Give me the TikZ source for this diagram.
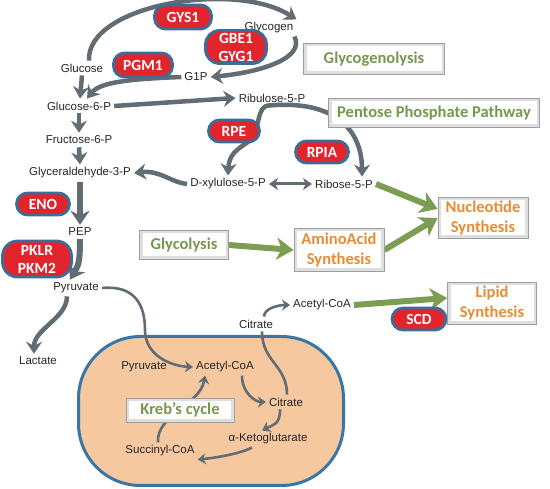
\documentclass[tikz,border=0pt]{standalone}
\usepackage{fontspec}
\setmainfont{Liberation Sans}
\newfontfamily\calib{Carlito}
\usetikzlibrary{arrows.meta,calc}
\definecolor{arrgray}{RGB}{98,108,115}
\definecolor{arrgreen}{RGB}{125,158,82}
\definecolor{txtgreen}{RGB}{118,152,78}
\definecolor{txtorange}{RGB}{232,140,52}
\definecolor{pillred}{RGB}{226,36,44}
\definecolor{pillblue}{RGB}{58,110,152}
\definecolor{cellfill}{RGB}{245,200,160}
\definecolor{cellblue}{RGB}{58,118,165}
\pgfdeclarelayer{cellL}
\pgfdeclarelayer{arrL}
\pgfsetlayers{cellL,arrL,main}
\begin{document}
\begin{tikzpicture}[x=1pt,y=-1pt,
 met/.style={font=\fontsize{11.5}{13}\selectfont, inner sep=3pt, text=black!85},
 pill/.style={draw=pillblue, line width=2.8pt, fill=pillred, text=white,
   font=\calib\bfseries\fontsize{15.5}{18}\selectfont, rounded corners=11pt,
   inner sep=0pt, align=center},
 tbox/.style={draw=black!38, line width=0.8pt, fill=black!13,
   path picture={\fill[white] ([shift={(3pt,-3pt)}]path picture bounding box.north west)
     rectangle ([shift={(-3pt,3pt)}]path picture bounding box.south east);},
   font=\calib\bfseries\fontsize{16.5}{20}\selectfont, inner sep=0pt, align=center},
 big/.style={draw=arrgray, line width=4.5pt, -{Stealth[length=12pt,width=16pt,inset=4pt]}},
 bigger/.style={draw=arrgray, line width=6pt, -{Stealth[length=14pt,width=19pt,inset=4.5pt]}},
 thin/.style={draw=arrgray, line width=2.6pt, -{Stealth[length=8pt,width=11pt,inset=2.5pt]}},
 grn/.style={draw=arrgreen, line width=6pt, -{Stealth[length=17pt,width=22pt,inset=5pt]}}
]
\useasboundingbox (0,0) rectangle (550,489);

% metabolite labels
\node[met] (glc) at (82,68) {Glucose};
\node[met] (glycogen) at (269,28) {Glycogen};
\node[met] (g1p) at (196,77) {G1P};
\node[met] (g6p) at (79,106) {Glucose-6-P};
\node[met] (ru5p) at (272,98) {Ribulose-5-P};
\node[met] (f6p) at (79,140) {Fructose-6-P};
\node[met] (gap) at (80,173) {Glyceraldehyde-3-P};
\node[met] (xu5p) at (228,184) {D-xylulose-5-P};
\node[met] (r5p) at (344,184) {Ribose-5-P};
\node[met] (pep) at (80,232) {PEP};
\node[met] (pyr) at (76,288) {Pyruvate};
\node[met] (lac) at (38,361) {Lactate};
\node[met] (acoa) at (322,305) {Acetyl-CoA};
\node[met] (cit) at (256,324) {Citrate};

% cell compartment
\begin{pgfonlayer}{cellL}
\node[draw=cellblue, line width=3pt, fill=cellfill, rounded corners=62pt,
  minimum width=265pt, minimum height=149pt] (cell) at (211,411) {};
\end{pgfonlayer}
\node[met] (ipyr) at (144,367) {Pyruvate};
\node[met] (iacoa) at (225,367) {Acetyl-CoA};
\node[met] (icit) at (286,402) {Citrate};
\node[met] (akg) at (268,439) {α-Ketoglutarate};
\node[met] (succ) at (160,451) {Succinyl-CoA};
\node[tbox, text=txtgreen, minimum width=108pt, minimum height=24pt] (kreb) at (180,410) {Kreb’s cycle};

% enzymes
\node[pill, minimum width=57pt, minimum height=24pt] (gys1) at (183,17) {GYS1};
\node[pill, minimum width=61pt, minimum height=33pt, rounded corners=14pt] (gbe1) at (236,47) {GBE1\\GYG1};
\node[pill, minimum width=59pt, minimum height=24pt] (pgm1) at (143,65) {PGM1};
\node[pill, minimum width=51pt, minimum height=22pt] (rpe) at (234,131) {RPE};
\node[pill, minimum width=53pt, minimum height=22pt] (rpia) at (322,152) {RPIA};
\node[pill, minimum width=53pt, minimum height=22pt] (eno) at (43,204) {ENO};
\node[pill, minimum width=69pt, minimum height=36pt, rounded corners=15pt] (pk) at (37,259) {PKLR\\PKM2};
\node[pill, minimum width=54pt, minimum height=22pt] (scd) at (419,319) {SCD};

% pathway boxes
\node[tbox, text=txtgreen, minimum width=141pt, minimum height=31pt] (glyco) at (374,59) {Glycogenolysis};
\node[tbox, text=txtgreen, minimum width=211pt, minimum height=29pt] (ppp) at (434,113) {Pentose Phosphate Pathway};
\node[tbox, text=txtgreen, minimum width=89pt, minimum height=29pt] (glys) at (184,245) {Glycolysis};
\node[tbox, text=txtorange, minimum width=90pt, minimum height=43pt] (aa) at (339,250) {AminoAcid\\Synthesis};
\node[tbox, text=txtorange, minimum width=90pt, minimum height=41pt] (nuc) at (483,218) {Nucleotide\\Synthesis};
\node[tbox, text=txtorange, minimum width=89pt, minimum height=42pt] (lip) at (492,303) {Lipid\\Synthesis};

\begin{pgfonlayer}{arrL}
% glycogen
\draw[big] ([xshift=7pt]glc.north) .. controls (86,5) and (235,-20) .. (glycogen.north east);
\draw[big] ([xshift=-2pt]glycogen.south east) .. controls (305,58) and (262,72) .. (g1p.east);
\draw[big] (g1p.west) .. controls (130,79) and (100,82) .. ([xshift=8pt]g6p.north);
% glycolysis
\draw[big] (glc.south) -- ([xshift=1pt]g6p.north);
\draw[big] (g6p.south) -- (f6p.north);
\draw[big] (f6p.south) -- (gap.north);
\draw[bigger] (gap.south) -- (pep.north);
\draw[bigger] (pep.south) .. controls +(0,25) and +(8,-14) .. ([xshift=-6pt]pyr.north);
\draw[big] ([xshift=-9pt]pyr.south) .. controls +(0,22) and +(0,-25) .. ([xshift=-4pt]lac.north);
% pentose phosphate
\draw[big] (g6p.east) -- (ru5p.west);
\coordinate (split) at ([xshift=-2pt]ru5p.south);
\draw[big] (split) .. controls (255,105) and (262,130) .. (248,142) .. controls (236,150) and (229,155) .. (xu5p.north);
\draw[big] (split) .. controls (335,100) and (362,130) .. ([xshift=18pt]r5p.north);
\draw[big] (xu5p.west) .. controls (170,182) and (160,170) .. (gap.east);
\draw[draw=arrgray, line width=3pt, {Stealth[length=9pt,width=12pt,inset=2.5pt]}-{Stealth[length=9pt,width=12pt,inset=2.5pt]}] (xu5p.east) -- (r5p.west);
% pyruvate to mitochondrion
\draw[thin] (pyr.east) .. controls (135,285) and (145,305) .. (145,330) .. controls (145,355) and (170,366) .. (iacoa.west);
% Krebs cycle
\draw[thin] ([xshift=17pt]iacoa.south) .. controls +(0,18) and +(-10,0) .. (icit.west);
\draw[thin] ([xshift=-6pt]icit.south) .. controls +(0,15) and +(12,-6) .. ([xshift=-6pt]akg.north);
\draw[thin] ([xshift=-16pt]akg.south) .. controls +(-12,6) and +(20,-2) .. (succ.south east);
\draw[thin] ([xshift=-2pt]succ.north) .. controls (156,415) and (200,405) .. ([xshift=-20pt]iacoa.south);
\draw[draw=arrgray, line width=2.6pt] ([xshift=1pt]icit.north) .. controls (287,365) and (262,362) .. ([xshift=6pt]cit.south);
\draw[thin] ([xshift=8pt]cit.north) .. controls +(0,-8) and +(-12,0) .. (acoa.west);
% green arrows
\draw[grn] (r5p.east) -- ($(nuc.west)+(0,-9)$);
\draw[grn] (aa.east) -- ($(nuc.west)+(0,0)$);
\draw[grn] (glys.east) -- (aa.west);
\draw[grn] (acoa.east) -- ($(lip.west)+(0,-5)$);
\end{pgfonlayer}
\end{tikzpicture}
\end{document}
